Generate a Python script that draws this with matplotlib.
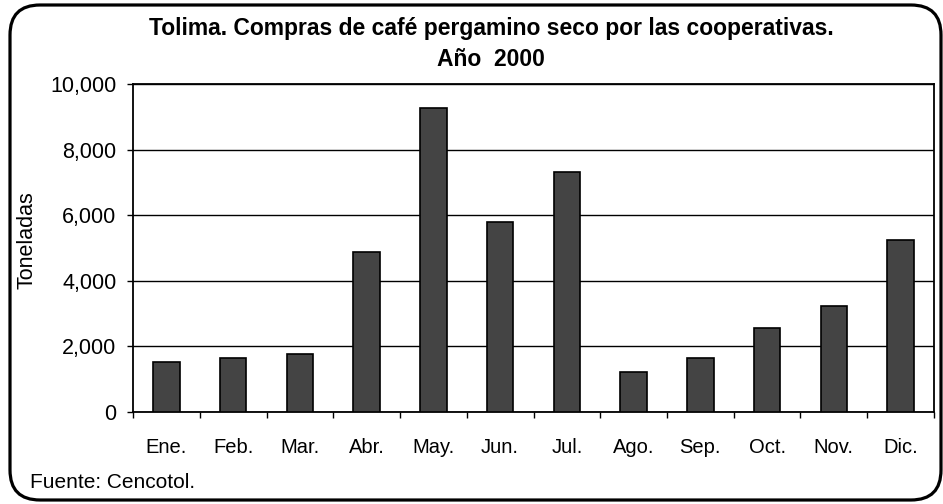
import matplotlib
matplotlib.use("Agg")
import matplotlib.pyplot as plt
from matplotlib.patches import FancyBboxPatch
from matplotlib.transforms import IdentityTransform
from matplotlib.ticker import FuncFormatter

meses = ["Ene.", "Feb.", "Mar.", "Abr.", "May.", "Jun.",
         "Jul.", "Ago.", "Sep.", "Oct.", "Nov.", "Dic."]
toneladas = [1530, 1640, 1780, 4890, 9270, 5800,
             7320, 1220, 1640, 2550, 3240, 5240]
y_ticks = [0, 2000, 4000, 6000, 8000, 10000]

plt.rcParams["font.family"] = ["Liberation Sans", "DejaVu Sans"]

fig = plt.figure(figsize=(9.43, 5.04), dpi=100)
ax = fig.add_axes([133 / 943, 1 - 412 / 504, (934 - 133) / 943, (412 - 84) / 504])

x = range(len(meses))
ax.bar(x, toneladas, width=0.4, color="#444444", edgecolor="black", linewidth=1.2, zorder=3)

ax.set_xlim(-0.5, len(meses) - 0.5)
ax.set_ylim(0, 10000)
ax.set_yticks(y_ticks)
ax.yaxis.set_major_formatter(FuncFormatter(lambda v, p: f"{int(v):,}"))
ax.grid(axis="y", color="black", linewidth=1.0, zorder=1)

# tick marks between categories, labels at centres
ax.set_xticks([i - 0.5 for i in range(len(meses) + 1)])
ax.set_xticklabels([])
ax.set_xticks(list(x), minor=True)
ax.set_xticklabels(meses, minor=True)
ax.tick_params(axis="x", which="major", length=4, width=1, direction="out")
ax.tick_params(axis="x", which="minor", length=0, pad=19, labelsize=14.5)
ax.tick_params(axis="y", length=4, width=1, pad=8, labelsize=15.5)

for s in ax.spines.values():
    s.set_linewidth(1.3)

fig.text(27 / 943, 1 - 240 / 504, "Toneladas", rotation=90, ha="center", va="center", fontsize=15.5)
fig.text(491 / 943, 1 - 28 / 504, "Tolima. Compras de café pergamino seco por las cooperativas.",
         ha="center", va="center", fontsize=16.5, fontweight="bold")
fig.text(491 / 943, 1 - 59 / 504, "Año  2000", ha="center", va="center", fontsize=16.5, fontweight="bold")
fig.text(30 / 943, 1 - 482 / 504, "Fuente: Cencotol.", ha="left", va="center", fontsize=15)

marco = FancyBboxPatch((10, 4), 931, 495, boxstyle="round,pad=0,rounding_size=30",
                       transform=IdentityTransform(), fill=False, edgecolor="black", linewidth=2.3)
fig.patches.append(marco)

fig.savefig("out.png", dpi=100)
